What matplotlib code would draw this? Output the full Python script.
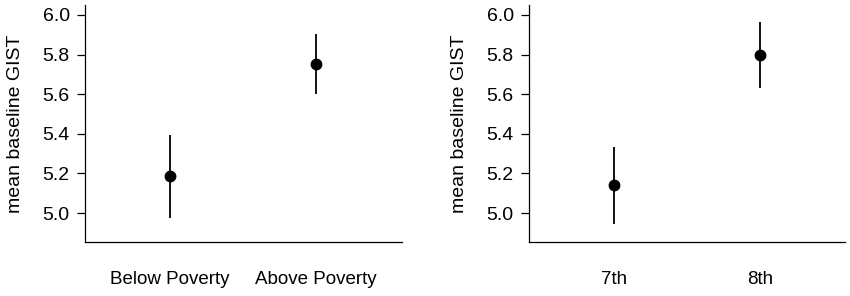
import numpy as np
import matplotlib
matplotlib.use("Agg")
from matplotlib import pyplot as plt

plt.rcParams['font.family'] = ['Liberation Sans', 'DejaVu Sans']

# panel 1: poverty status
pov_labels = ['Below Poverty', 'Above Poverty']
pov_mean = [5.187, 5.753]
pov_low = [4.976, 5.599]
pov_high = [5.394, 5.902]

# panel 2: grade
grade_labels = ['7th', '8th']
grade_mean = [5.140, 5.798]
grade_low = [4.944, 5.630]
grade_high = [5.335, 5.965]

yticks = [5.0, 5.2, 5.4, 5.6, 5.8, 6.0]

fig = plt.figure(figsize=(8.5, 2.96), dpi=100)
ax1 = fig.add_axes([0.100, 0.1824, 0.373, 0.8006])
ax2 = fig.add_axes([0.6224, 0.1824, 0.3717, 0.8006])

panels = [
    (ax1, pov_labels, pov_mean, pov_low, pov_high, (-0.582, 1.589)),
    (ax2, grade_labels, grade_mean, grade_low, grade_high, (-0.579, 1.581)),
]

for ax, labels, mean, low, high, xl in panels:
    x = np.arange(len(labels))
    mean = np.array(mean)
    err = [mean - np.array(low), np.array(high) - mean]
    ax.errorbar(x, mean, yerr=err, fmt='o', color='black', ms=7.5,
                elinewidth=1.3, capsize=0)
    ax.set_xlim(*xl)
    ax.set_ylim(4.854, 6.05)
    ax.set_yticks(yticks)
    ax.set_yticklabels(['%.1f' % t for t in yticks])
    ax.set_xticks(x)
    ax.set_xticklabels(labels)
    ax.tick_params(axis='y', length=6, width=0.9, pad=5, labelsize=14)
    ax.tick_params(axis='x', length=0, pad=21, labelsize=13.5)
    ax.spines['top'].set_visible(False)
    ax.spines['right'].set_visible(False)
    for s in ['left', 'bottom']:
        ax.spines[s].set_linewidth(0.9)
    ax.set_ylabel('mean baseline GIST', fontsize=14, labelpad=13)

fig.savefig('out.png', dpi=100)
